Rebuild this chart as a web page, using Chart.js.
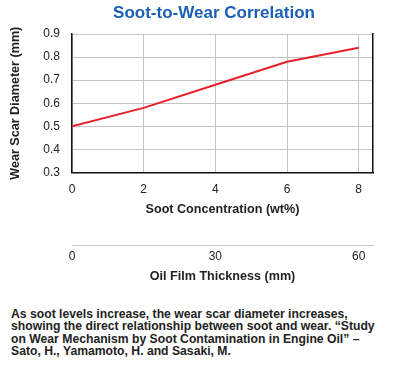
<!DOCTYPE html>
<html>
<head>
<meta charset="utf-8">
<script src="https://cdn.jsdelivr.net/npm/chart.js@4"></script>
<style>
    html, body { margin: 0; padding: 0; background: #fff; }
    #wrap { position: relative; width: 400px; height: 284px; }
    #title {
        position: absolute; left: 28px; right: 0; top: 3px;
        text-align: center;
        font: bold 17px "Liberation Sans", Arial, sans-serif;
        color: #1a5fb4;
    }
    #note {
        margin: 24px 0 0 11px;
        font: bold 12.2px "Liberation Sans", Arial, sans-serif;
        line-height: 12.3px;
        color: #222;
        white-space: nowrap;
    }
</style>
</head>
<body>
<div id="wrap">
    <canvas id="sootChart"></canvas>
    <div id="title">Soot-to-Wear Correlation</div>
</div>
<div id="note">As soot levels increase, the wear scar diameter increases,<br>showing the direct relationship between soot and wear. “Study<br>on Wear Mechanism by Soot Contamination in Engine Oil” –<br>Sato, H., Yamamoto, H. and Sasaki, M.</div>
<script>
// soot concentration (wt%) vs wear scar diameter (mm)
const sootLevels = [0, 2, 4, 6, 8];
const wearScar = [0.50, 0.58, 0.68, 0.78, 0.84];
// second axis: oil film thickness (mm)
const filmTicks = [0, 30, 60];

const FONT = '"Liberation Sans", Arial, sans-serif';

document.addEventListener('DOMContentLoaded', function() {
    const ctx = document.getElementById('sootChart');

    new Chart(ctx, {
        type: 'line',
        data: {
            datasets: [{
                data: sootLevels.map((s, i) => ({ x: s, y: wearScar[i] })),
                borderColor: '#e8202a',
                borderWidth: 2,
                pointRadius: 0,
                tension: 0,
                xAxisID: 'x',
                yAxisID: 'y'
            }]
        },
        options: {
            responsive: true,
            maintainAspectRatio: false,
            animation: false,
            layout: { padding: { left: 2, right: 27, top: 34, bottom: 0 } },
            plugins: {
                legend: { display: false },
                tooltip: { enabled: false },
                title: { display: false }
            },
            scales: {
                x: {
                    type: 'linear',
                    position: 'bottom',
                    weight: 0,
                    min: 0,
                    max: 8.4,
                    grid: { color: '#c4c4c4', drawTicks: false },
                    border: { color: '#111', width: 1.5 },
                    ticks: {
                        stepSize: 2,
                        includeBounds: false,
                        padding: 10,
                        color: '#222',
                        font: { family: FONT, size: 12 }
                    },
                    title: {
                        display: true,
                        text: 'Soot Concentration (wt%)',
                        color: '#222',
                        font: { family: FONT, size: 12.6, weight: 'bold' },
                        padding: { top: -4.5, bottom: 28 }
                    }
                },
                x2: {
                    type: 'linear',
                    position: 'bottom',
                    weight: 1,
                    min: 0,
                    max: 63,
                    afterBuildTicks: axis => {
                        axis.ticks = filmTicks.map(v => ({ value: v }));
                    },
                    grid: { drawOnChartArea: false, drawTicks: false },
                    border: { color: '#c4c4c4', width: 1 },
                    ticks: {
                        padding: 4,
                        color: '#222',
                        font: { family: FONT, size: 12 }
                    },
                    title: {
                        display: true,
                        text: 'Oil Film Thickness (mm)',
                        color: '#222',
                        font: { family: FONT, size: 12.6, weight: 'bold' },
                        padding: { top: 1, bottom: 0 }
                    }
                },
                y: {
                    min: 0.3,
                    max: 0.9,
                    grid: { color: '#c4c4c4', drawTicks: false },
                    border: { color: '#111', width: 1.5 },
                    ticks: {
                        stepSize: 0.1,
                        padding: 12,
                        color: '#222',
                        font: { family: FONT, size: 12 },
                        callback: v => v.toFixed(1)
                    },
                    title: {
                        display: true,
                        text: 'Wear Scar Diameter (mm)',
                        color: '#222',
                        font: { family: FONT, size: 12.6, weight: 'bold' },
                        padding: { top: 6, bottom: 8.2 }
                    }
                },
                yRight: {
                    position: 'right',
                    min: 0.3,
                    max: 0.9,
                    grid: { drawOnChartArea: false, drawTicks: false },
                    border: { color: '#111', width: 1.5 },
                    ticks: { display: false }
                }
            }
        }
    });
});
</script>
</body>
</html>
